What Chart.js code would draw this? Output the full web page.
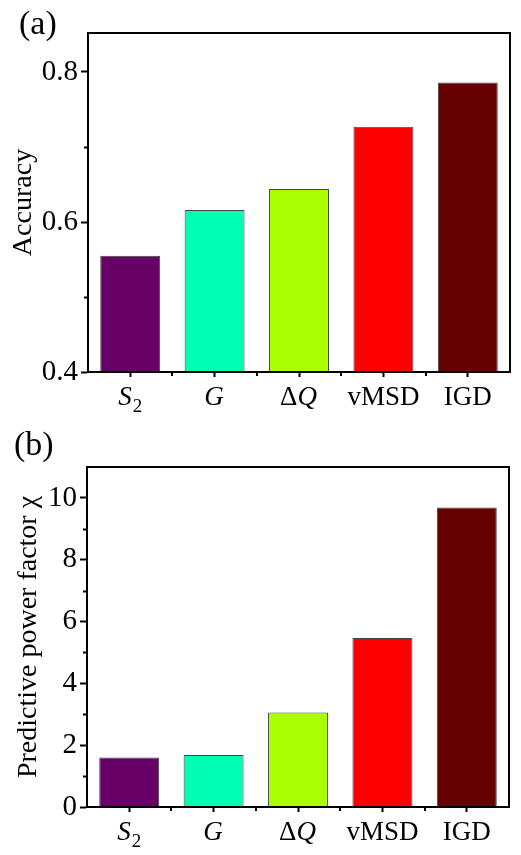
<!DOCTYPE html>
<html>
<head>
<meta charset="utf-8">
<script src="https://cdn.jsdelivr.net/npm/chart.js@4.4.0/dist/chart.umd.min.js"></script>
<style>
body { margin: 0; background: #fff; width: 521px; height: 855px; position: relative; overflow: hidden; font-family: "Liberation Serif", "Times New Roman", serif; }
.panel { position: absolute; left: 0; width: 521px; }
.tag { position: absolute; font-size: 34px; line-height: 1; color: #000; }
</style>
</head>
<body>
<div class="panel" style="top:0;height:420px"><canvas id="chartA" width="521" height="420"></canvas></div>
<div class="panel" style="top:420px;height:435px"><canvas id="chartB" width="521" height="435"></canvas></div>
<div class="tag" style="left:19px;top:6px">(a)</div>
<div class="tag" style="left:14px;top:427px">(b)</div>
<script>
const categories = ["S2", "G", "ΔQ", "vMSD", "IGD"];
const accuracy = [0.555, 0.616, 0.644, 0.727, 0.786];
const powerFactor = [1.6, 1.68, 3.06, 5.47, 9.69];
const barColors = ["#660066", "#00FFB2", "#AAFF00", "#FF0000", "#640000"];
const accTicks = [0.4, 0.6, 0.8];
const accMinor = [0.5, 0.7];
const pfTicks = [0, 2, 4, 6, 8, 10];
const pfMinor = [1, 3, 5, 7, 9];

const serif = "'Liberation Serif', 'Times New Roman', serif";

// split a label into pieces: single letters italic, digits as subscripts
function labelParts(s) {
    if (/^[A-Za-z]{2,}$/.test(s)) return [{ t: s }];
    return [...s].map(c => {
        if (/[0-9]/.test(c)) return { t: c, sub: true };
        if (/[A-Za-z]/.test(c)) return { t: c, it: true };
        return { t: c };
    });
}

// box round the plot, minor ticks, and the category labels
const frame = {
    id: 'frame',
    afterDraw(chart, args, opts) {
        const { ctx, chartArea: a, scales: { x, y } } = chart;
        ctx.save();
        ctx.strokeStyle = '#000';
        ctx.lineWidth = 2;
        ctx.strokeRect(a.left, a.top, a.right - a.left, a.bottom - a.top);
        ctx.beginPath();
        opts.minor.forEach(v => {
            const py = Math.round(y.getPixelForValue(v)) + 0.5;
            ctx.moveTo(a.left - 4, py);
            ctx.lineTo(a.left, py);
        });
        for (let i = 1; i < categories.length; i++) {
            const px = Math.round(x.getPixelForValue(i - 0.5));
            ctx.moveTo(px, a.bottom);
            ctx.lineTo(px, a.bottom + 4);
        }
        ctx.stroke();

        ctx.fillStyle = '#000';
        ctx.textBaseline = 'alphabetic';
        ctx.textAlign = 'left';
        const base = a.bottom + 33;
        chart.data.labels.forEach((lab, i) => {
            const parts = labelParts(lab).map(p => {
                p.font = (p.it ? 'italic ' : '') + (p.sub ? 19 : 27) + 'px ' + serif;
                ctx.font = p.font;
                p.w = ctx.measureText(p.t).width + (p.it ? 1 : 0);
                return p;
            });
            const total = parts.reduce((s, p) => s + p.w, 0);
            let cx = x.getPixelForValue(i) - total / 2;
            parts.forEach(p => {
                ctx.font = p.font;
                ctx.fillText(p.t, cx, base + (p.sub ? 7 : 0));
                cx += p.w;
            });
        });
        ctx.restore();
    }
};

function makeChart(id, values, opts) {
    return new Chart(document.getElementById(id), {
        type: 'bar',
        data: {
            labels: categories,
            datasets: [{
                data: values,
                backgroundColor: barColors,
                borderColor: '#444',
                borderWidth: 1,
                barPercentage: 0.71,
                categoryPercentage: 1
            }]
        },
        options: {
            responsive: false,
            animation: false,
            layout: { padding: opts.padding },
            plugins: {
                legend: { display: false },
                tooltip: { enabled: false },
                frame: { minor: opts.minor }
            },
            scales: {
                x: {
                    afterFit(scale) { scale.height = opts.xHeight; },
                    grid: { display: true, offset: false, drawOnChartArea: false, tickLength: 5, tickWidth: 2, tickColor: '#000' },
                    border: { display: true, color: '#000', width: 2 },
                    ticks: {
                        color: '#000',
                        padding: 2,
                        maxRotation: 0,
                        font: { family: serif, size: 27 },
                        callback: () => ''
                    }
                },
                y: {
                    min: opts.min,
                    max: opts.max,
                    afterFit(scale) { scale.width = opts.yWidth; },
                    afterBuildTicks(scale) { scale.ticks = opts.ticks.map(v => ({ value: v })); },
                    grid: { display: true, drawOnChartArea: false, tickLength: 7, tickWidth: 2, tickColor: '#000' },
                    border: { display: true, color: '#000', width: 2 },
                    ticks: {
                        color: '#000',
                        padding: 3,
                        font: { family: serif, size: 29 },
                        callback: opts.fmt
                    },
                    title: {
                        display: true,
                        text: opts.title,
                        color: '#000',
                        font: { family: serif, size: 28 },
                        padding: { top: opts.titlePad, bottom: 0 }
                    }
                }
            }
        },
        plugins: [frame]
    });
}

makeChart('chartA', accuracy, {
    min: 0.4, max: 0.852, ticks: accTicks, minor: accMinor,
    fmt: v => v.toFixed(1), title: 'Accuracy', titlePad: 7,
    padding: { top: 33, right: 11, left: 0, bottom: 0 }, yWidth: 88, xHeight: 48
});

makeChart('chartB', powerFactor, {
    min: 0, max: 11, ticks: pfTicks, minor: pfMinor,
    fmt: v => String(v), title: 'Predictive power factor χ', titlePad: 12,
    padding: { top: 47, right: 12, left: 0, bottom: 0 }, yWidth: 87, xHeight: 48
});
</script>
</body>
</html>
